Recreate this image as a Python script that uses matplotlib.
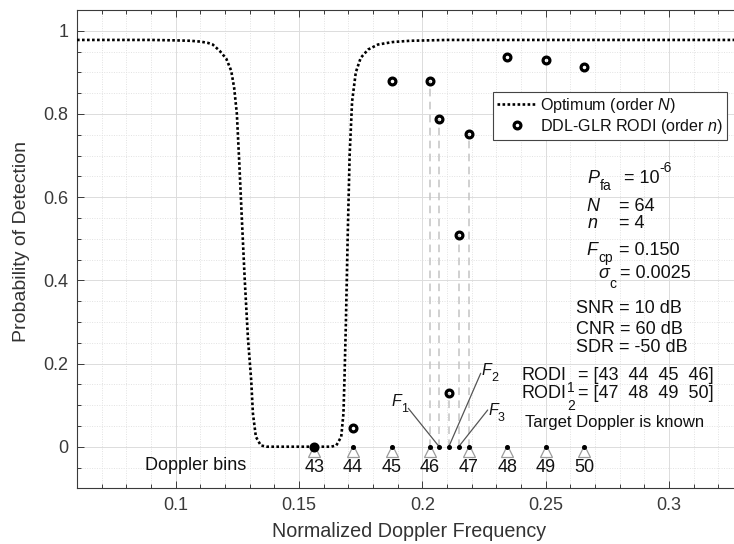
import matplotlib
matplotlib.use('Agg')
import matplotlib.pyplot as plt
from matplotlib.lines import Line2D
from matplotlib.ticker import MultipleLocator, FixedLocator
from matplotlib.transforms import ScaledTranslation

plt.rcParams['font.family'] = ['Liberation Sans', 'DejaVu Sans']
plt.rcParams['mathtext.fontset'] = 'custom'
plt.rcParams['mathtext.rm'] = 'Liberation Sans'
plt.rcParams['mathtext.it'] = 'Liberation Sans:italic'

# ---------------- data ----------------
opt_freq = [0.06, 0.09, 0.100, 0.106, 0.110, 0.1130, 0.1150, 0.1178, 0.1205, 0.1225,
            0.1237, 0.1248, 0.1258, 0.1268, 0.1280, 0.1293, 0.1306, 0.1313, 0.1325,
            0.1345, 0.1370, 0.1500, 0.1630, 0.1651, 0.1671, 0.1680, 0.1684, 0.1690,
            0.1697, 0.1705, 0.1715, 0.1730, 0.1750, 0.1780, 0.1820, 0.1880, 0.1950,
            0.2100, 0.3300]
opt_pd = [0.978, 0.978, 0.977, 0.976, 0.974, 0.971, 0.967, 0.952, 0.933, 0.904,
          0.863, 0.800, 0.680, 0.550, 0.400, 0.260, 0.160, 0.080, 0.024,
          0.003, 0.000, 0.000, 0.000, 0.003, 0.024, 0.080, 0.160, 0.300,
          0.500, 0.700, 0.830, 0.900, 0.935, 0.955, 0.967, 0.973, 0.976,
          0.978, 0.978]

rodi_freq = [0.15625, 0.171875, 0.1875, 0.203125, 0.2068, 0.2107, 0.2147,
             0.21875, 0.234375, 0.25, 0.265625]
rodi_pd = [0.0, 0.044, 0.880, 0.880, 0.789, 0.128, 0.508, 0.752, 0.937, 0.930, 0.914]

bin_numbers = [43, 44, 45, 46, 47, 48, 49, 50]
bin_freq = [0.15625, 0.171875, 0.1875, 0.203125, 0.21875, 0.234375, 0.25, 0.265625]

test_freq = [0.2068, 0.2107, 0.2147]          # F1, F2, F3
stem_freq = [0.203125, 0.2068, 0.2107, 0.2147, 0.21875]
stem_pd = [0.880, 0.789, 0.128, 0.508, 0.752]

x_ticks = [0.1, 0.15, 0.2, 0.25, 0.3]
x_ticklabels = ['0.1', '0.15', '0.2', '0.25', '0.3']
y_ticks = [0, 0.2, 0.4, 0.6, 0.8, 1.0]
y_ticklabels = ['0', '0.2', '0.4', '0.6', '0.8', '1']

W, H = 734, 544
fig = plt.figure(figsize=(W / 100, H / 100), dpi=100)
L, T, B, R = 77, 10, 488.3, 734
ax = fig.add_axes([L / W, 1 - B / H, (R - L) / W, (B - T) / H])
ax.set_xlim(0.06, 0.3263)
ax.set_ylim(-0.1, 1.05)

axc = '#3a3a3a'
ax.set_axisbelow(True)
ax.xaxis.set_major_locator(FixedLocator(x_ticks))
ax.yaxis.set_major_locator(FixedLocator(y_ticks))
ax.xaxis.set_minor_locator(MultipleLocator(0.01))
ax.yaxis.set_minor_locator(MultipleLocator(0.05))
ax.grid(which='major', color='#dcdcdc', lw=0.7, ls='-')
ax.grid(which='minor', color='#e2e2e2', lw=0.7, ls=(0, (1, 1.5)))
ax.set_xticklabels(x_ticklabels)
ax.set_yticklabels(y_ticklabels)
ax.tick_params(which='both', direction='in', top=True, right=False, color=axc,
               labelcolor='#3a3a3a', labelsize=13, width=0.7)
ax.tick_params(which='major', length=5, pad=6)
ax.tick_params(which='minor', length=3)
for s in ['left', 'bottom', 'top']:
    ax.spines[s].set_color(axc)
    ax.spines[s].set_linewidth(0.8)
ax.spines['right'].set_visible(False)

# dashed stems
for f, p in zip(stem_freq, stem_pd):
    ax.plot([f, f], [0, p], color='#c4c4c4', lw=1.1, ls=(0, (5, 3.5)), zorder=2)

# optimum curve
ax.plot(opt_freq, opt_pd, color='black', lw=1.9, ls=(0, (1, 0.9)), zorder=4)

# Doppler bin triangles and dots
tri_tr = ax.transData + ScaledTranslation(0, -3.2 / 72, fig.dpi_scale_trans)
ax.plot(bin_freq, [0] * len(bin_freq), ls='none', marker='^', ms=8.5, mfc='white',
        mec='#9a9a9a', mew=0.9, transform=tri_tr, zorder=3)
ax.plot(bin_freq, [0] * len(bin_freq), ls='none', marker='o', ms=2.6, color='black', zorder=5)
ax.plot(test_freq, [0] * len(test_freq), ls='none', marker='o', ms=2.6, color='black', zorder=5)

# RODI circles
ax.plot(rodi_freq, rodi_pd, ls='none', marker='o', ms=4.9, mfc='none', mec='black',
        mew=2.3, zorder=6)

# bin labels
for f, n in zip(bin_freq, bin_numbers):
    ax.text(f, 0, str(n), transform=ax.transData + ScaledTranslation(0, -25.0 / 100, fig.dpi_scale_trans),
            ha='center', va='baseline', fontsize=13, color='#111111')

renderer = fig.canvas.get_renderer()


def ptext(px, py, s, size=13, ha='left', style='normal', color='#111111'):
    return fig.text(px / W, 1 - py / H, s, fontsize=size, ha=ha, va='baseline',
                    style=style, color=color)


def chain(px, py, parts):
    x = px
    for s, size, style, dy, gap in parts:
        t = ptext(x, py + dy, s, size=size, style=style)
        x = t.get_window_extent(renderer).x1 + gap
    return x


ptext(246.7, 470, 'Doppler bins')
fig.texts[-1].set_ha('right')

# parameter block
chain(587, 183.3, [('P', 13, 'italic', 0, 0.5), ('fa', 10, 'normal', 6.5, 0)])
chain(624, 183.3, [('= 10', 13, 'normal', 0, 0), ('-6', 10, 'normal', -11.6, 0)])
ptext(586, 210.7, 'N', style='italic')
ptext(619, 210.7, '= 64')
ptext(587.5, 228.5, 'n', style='italic')
ptext(619, 228.5, '= 4')
chain(586.5, 255, [('F', 13, 'italic', 0, 0.5), ('cp', 10, 'normal', 7, 0)])
ptext(619, 255, '= 0.150')
chain(598.5, 278.3, [('\u03c3', 13, 'italic', 0, 0.0), ('c', 10, 'normal', 10, 0)])
ptext(620.5, 278.3, '= 0.0025')
ptext(576, 313.3, 'SNR = 10 dB')
ptext(576, 334, 'CNR = 60 dB')
ptext(576, 351.7, 'SDR = -50 dB')
x1 = chain(521.5, 380, [('RODI', 13, 'normal', 0, 0.5), ('1', 10, 'normal', 11.7, 3)])
ptext(x1, 380, '= [43  44  45  46]')
x2 = chain(521.5, 398.3, [('RODI', 13, 'normal', 0, 0.5), ('2', 10, 'normal', 11.7, 3)])
ptext(x2, 398.3, '= [47  48  49  50]')
ptext(525, 426.7, 'Target Doppler is known', size=12)

# F labels with leader lines
f_label_px = [(391, 406), (481, 375), (488, 415)]
f_line_px = [(408.3, 408.3), (480.7, 373.3), (487.7, 410)]
for i, (f, (lx, ly), (sx, sy)) in enumerate(zip(test_freq, f_label_px, f_line_px)):
    chain(lx, ly, [('F', 11.5, 'italic', 0, 0.3), (str(i + 1), 9, 'normal', 6, 0)])
    ax.annotate('', xy=(f, 0), xycoords='data', xytext=(sx, H - sy),
                textcoords='figure pixels',
                arrowprops=dict(arrowstyle='-', color='#555555', lw=0.9,
                                shrinkA=0, shrinkB=0))

# axis labels
fig.text(409 / W, 1 - 537 / H, 'Normalized Doppler Frequency', ha='center', va='baseline',
         fontsize=14.2, color='#333333')
fig.text(21.7 / W, 1 - 241.7 / H, 'Probability of Detection', ha='center', va='center',
         rotation=90, fontsize=14, color='#333333')

# legend
handles = [Line2D([], [], color='black', lw=1.9, ls=(0, (1, 0.9))),
           Line2D([], [], ls='none', marker='o', ms=4.9, mfc='none', mec='black', mew=2.3)]
labels = ['Optimum (order $\\mathit{N}$)', 'DDL-GLR RODI (order $\\mathit{n}$)']
leg = ax.legend(handles, labels, loc='upper right',
                bbox_to_anchor=(726.7 / W, 1 - 91.7 / H), bbox_transform=fig.transFigure,
                borderaxespad=0, fontsize=11.6, frameon=True, fancybox=False,
                edgecolor='#444444', framealpha=1, handlelength=2.5, handletextpad=0.15,
                borderpad=0.25, labelspacing=0.12)
leg.get_frame().set_linewidth(0.8)
for t in leg.get_texts():
    t.set_color('#111111')

fig.savefig('out.png', dpi=100)
